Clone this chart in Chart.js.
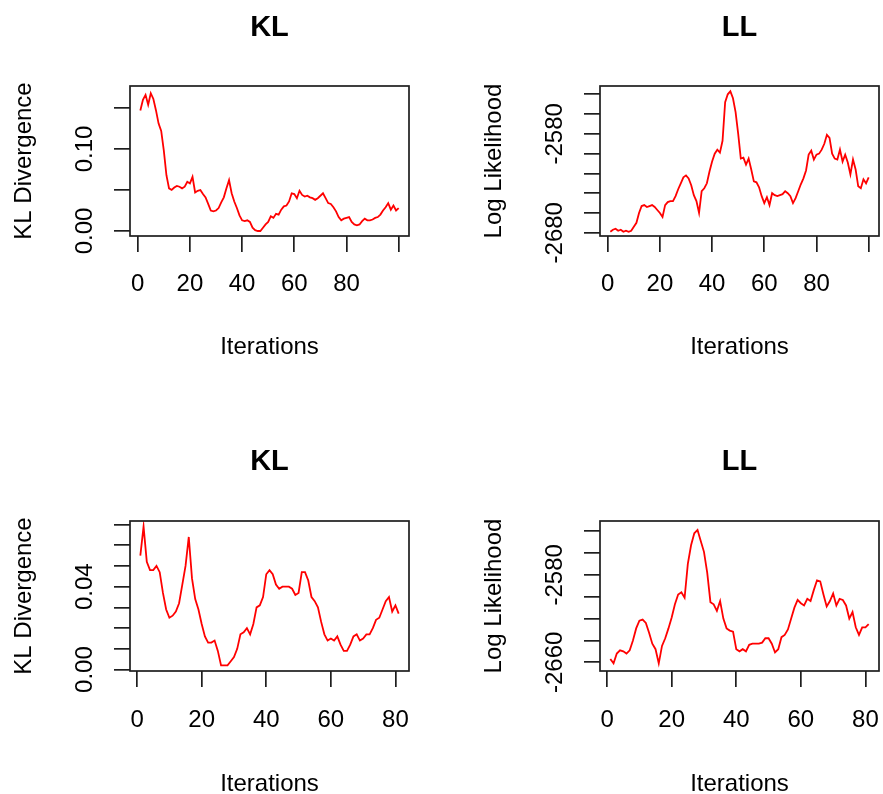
<!DOCTYPE html>
<html>
<head>
<meta charset="utf-8">
<title>KL / LL traces</title>
<script src="https://cdn.jsdelivr.net/npm/chart.js@4.4.1/dist/chart.umd.min.js"></script>
<style>
  html, body { margin: 0; padding: 0; background: #fff; }
  body { width: 883px; height: 794px; position: relative; overflow: hidden; }
  canvas { position: absolute; }
</style>
</head>
<body>
<canvas id="klRun1" width="441" height="359" style="left:0px;top:0px;width:441px;height:359px"></canvas>
<canvas id="llRun1" width="413" height="359" style="left:470px;top:0px;width:413px;height:359px"></canvas>
<canvas id="klRun2" width="441" height="361" style="left:0px;top:435px;width:441px;height:361px"></canvas>
<canvas id="llRun2" width="413" height="361" style="left:470px;top:435px;width:413px;height:361px"></canvas>
<script>
// first run: 100 iterations
const klRun1 = [
  0.147, 0.160, 0.166, 0.154, 0.168, 0.161, 0.147, 0.131, 0.122, 0.098,
  0.068, 0.052, 0.050, 0.053, 0.055, 0.054, 0.052, 0.054, 0.060, 0.058,
  0.066, 0.047, 0.049, 0.050, 0.045, 0.041, 0.033, 0.025, 0.024, 0.025,
  0.028, 0.035, 0.041, 0.052, 0.062, 0.046, 0.036, 0.028, 0.019, 0.013,
  0.012, 0.013, 0.011, 0.004, 0.001, 0.000, 0.000, 0.004, 0.008, 0.011,
  0.018, 0.016, 0.021, 0.020, 0.026, 0.030, 0.031, 0.036, 0.046, 0.045,
  0.040, 0.049, 0.044, 0.042, 0.043, 0.041, 0.040, 0.038, 0.040, 0.043,
  0.046, 0.040, 0.034, 0.033, 0.029, 0.024, 0.017, 0.013, 0.015, 0.016,
  0.017, 0.011, 0.008, 0.007, 0.008, 0.012, 0.015, 0.013, 0.013, 0.014,
  0.016, 0.017, 0.020, 0.025, 0.029, 0.034, 0.026, 0.031, 0.025, 0.028
];
const llRun1 = [
  -2679, -2677, -2676, -2678, -2677, -2679, -2678, -2679, -2678, -2674,
  -2670, -2660, -2653, -2652, -2654, -2653, -2652, -2654, -2657, -2660,
  -2664, -2652, -2649, -2648, -2648, -2643, -2636, -2630, -2624, -2622,
  -2625, -2632, -2642, -2648, -2660, -2638, -2635, -2630, -2618, -2608,
  -2600, -2596, -2599, -2587, -2548, -2540, -2537, -2544, -2558, -2580,
  -2605, -2604, -2611, -2605, -2616, -2628, -2629, -2634, -2643, -2650,
  -2644, -2652, -2640, -2642, -2643, -2642, -2641, -2638, -2640, -2643,
  -2650, -2645, -2638, -2631, -2625, -2617, -2601, -2597, -2606, -2601,
  -2600, -2596, -2590, -2581, -2584, -2600, -2605, -2606, -2596, -2608,
  -2601, -2609, -2621, -2606, -2616, -2633, -2635, -2626, -2630, -2624
];

// second run: 81 iterations
const klRun2 = [
  0.055, 0.069, 0.052, 0.048, 0.048, 0.050, 0.047, 0.037, 0.029, 0.025,
  0.026, 0.028, 0.032, 0.041, 0.050, 0.064, 0.044, 0.034, 0.029, 0.022,
  0.016, 0.013, 0.013, 0.014, 0.009, 0.002, 0.002, 0.002, 0.004, 0.006,
  0.010, 0.017, 0.018, 0.020, 0.017, 0.022, 0.030, 0.031, 0.035, 0.046,
  0.048, 0.046, 0.041, 0.039, 0.040, 0.040, 0.040, 0.039, 0.036, 0.037,
  0.047, 0.047, 0.043, 0.035, 0.033, 0.030, 0.023, 0.017, 0.014, 0.015,
  0.014, 0.016, 0.012, 0.009, 0.009, 0.012, 0.016, 0.017, 0.014, 0.015,
  0.017, 0.017, 0.020, 0.024, 0.025, 0.029, 0.033, 0.035, 0.028, 0.031,
  0.027
];
const llRun2 = [
  -2657, -2661, -2652, -2649, -2650, -2652, -2649, -2640, -2629, -2622,
  -2621, -2624, -2633, -2643, -2648, -2661, -2645, -2638, -2629, -2619,
  -2607, -2598, -2596, -2601, -2570, -2553, -2542, -2539, -2549, -2559,
  -2578, -2605, -2607, -2613, -2604, -2620, -2629, -2631, -2632, -2648,
  -2650, -2648, -2650, -2644, -2643, -2643, -2643, -2642, -2638, -2638,
  -2643, -2651, -2648, -2637, -2635, -2630, -2620, -2610, -2603, -2606,
  -2608, -2602, -2604, -2594, -2585, -2586, -2598, -2609, -2604, -2597,
  -2608, -2602, -2603, -2608, -2620, -2614, -2628, -2635, -2628, -2628,
  -2625
];

// axis ticks and the labels printed next to them ('' = tick only)
const xTicksRun1 = [0, 20, 40, 60, 80, 100];
const xLabelsRun1 = ['0', '20', '40', '60', '80', ''];
const xTicksRun2 = [0, 20, 40, 60, 80];
const xLabelsRun2 = ['0', '20', '40', '60', '80'];
const klTicksRun1 = [0, 0.05, 0.10, 0.15];
const klLabelsRun1 = ['0.00', '', '0.10', ''];
const llTicksRun1 = [-2680, -2660, -2640, -2620, -2600, -2580, -2560, -2540];
const llLabelsRun1 = ['-2680', '', '', '', '', '-2580', '', ''];
const klTicksRun2 = [0, 0.01, 0.02, 0.03, 0.04, 0.05, 0.06, 0.07];
const klLabelsRun2 = ['0.00', '', '', '', '0.04', '', '', ''];
const llTicksRun2 = [-2660, -2640, -2620, -2600, -2580, -2560, -2540];
const llLabelsRun2 = ['-2660', '', '', '', '-2580', '', ''];

const FONT = "'Liberation Sans', Arial, sans-serif";
const INK = '#1e1e1e';

// box round the plot region, drawn over the line like R's box()
const frameBox = {
    id: 'frameBox',
    afterDatasetsDraw(chart) {
        const {ctx, chartArea} = chart;
        ctx.save();
        ctx.strokeStyle = INK;
        ctx.lineWidth = 1.7;
        ctx.strokeRect(chartArea.left, chartArea.top,
            chartArea.right - chartArea.left, chartArea.bottom - chartArea.top);
        ctx.restore();
    }
};

function widestText(labels, size) {
    const ctx = document.createElement('canvas').getContext('2d');
    ctx.font = size + 'px ' + FONT;
    return Math.max(...labels.map(l => ctx.measureText(l).width));
}

// fixed axis size, and no extra room asked for overhanging end labels
function fixSize(s, size) {
    if (s.isHorizontal()) s.height = size; else s.width = size;
    s.paddingLeft = 0;
    s.paddingRight = 0;
    s.paddingTop = 0;
    s.paddingBottom = 0;
}

function drawPanel(id, p) {
    // rotated y labels are centred this far left of the axis
    const yPad = 28.5 - widestText(p.yLabels, 24) / 2;

    return new Chart(document.getElementById(id), {
        type: 'line',
        data: {
            datasets: [{
                data: p.values.map((v, i) => ({x: i + 1, y: v})),
                borderColor: '#ff0000',
                borderWidth: 1.8,
                pointRadius: 0,
                tension: 0,
                fill: false
            }]
        },
        options: {
            responsive: false,
            animation: false,
            devicePixelRatio: 1,
            layout: {padding: {left: 0, right: p.padRight, top: 0, bottom: 0}},
            plugins: {
                legend: {display: false},
                tooltip: {enabled: false},
                title: {
                    display: true,
                    text: p.title,
                    fullSize: false,
                    color: '#000',
                    font: {family: FONT, size: 29, weight: 'bold'},
                    padding: {top: p.titleTop, bottom: 51.2 - p.titleTop}
                }
            },
            scales: {
                x: {
                    type: 'linear',
                    min: p.xMin,
                    max: p.xMax,
                    afterBuildTicks: s => { s.ticks = p.xTicks.map(v => ({value: v})); },
                    afterFit: s => fixSize(s, p.xAxisHeight),
                    grid: {drawOnChartArea: false, tickLength: 16, color: INK, lineWidth: 1.7},
                    border: {display: false},
                    ticks: {
                        autoSkip: false,
                        minRotation: 0,
                        maxRotation: 0,
                        padding: p.xLabelPad,
                        color: '#000',
                        font: {family: FONT, size: 24},
                        callback: (v, i) => p.xLabels[i]
                    },
                    title: {
                        display: true,
                        text: 'Iterations',
                        color: '#000',
                        font: {family: FONT, size: 24},
                        padding: {top: 0, bottom: -2.5}
                    }
                },
                y: {
                    type: 'linear',
                    min: p.yMin,
                    max: p.yMax,
                    afterBuildTicks: s => { s.ticks = p.yTicks.map(v => ({value: v})); },
                    afterFit: s => fixSize(s, 130),
                    grid: {drawOnChartArea: false, tickLength: 16, color: INK, lineWidth: 1.7},
                    border: {display: false},
                    ticks: {
                        autoSkip: false,
                        minRotation: 90,
                        maxRotation: 90,
                        crossAlign: 'center',
                        padding: yPad,
                        color: '#000',
                        font: {family: FONT, size: 24},
                        callback: (v, i) => p.yLabels[i]
                    },
                    title: {
                        display: true,
                        text: p.yTitle,
                        color: '#000',
                        font: {family: FONT, size: 24},
                        padding: {top: 9.6, bottom: 0}
                    }
                }
            }
        },
        plugins: [frameBox]
    });
}

drawPanel('klRun1', {
    title: 'KL', yTitle: 'KL Divergence', values: klRun1,
    xTicks: xTicksRun1, xLabels: xLabelsRun1, xMin: -2.96, xMax: 103.96,
    yTicks: klTicksRun1, yLabels: klLabelsRun1, yMin: -0.0061, yMax: 0.1768,
    padRight: 32, xAxisHeight: 123, xLabelPad: 17.6, titleTop: 11
});
drawPanel('llRun1', {
    title: 'LL', yTitle: 'Log Likelihood', values: llRun1,
    xTicks: xTicksRun1, xLabels: xLabelsRun1, xMin: -2.96, xMax: 103.96,
    yTicks: llTicksRun1, yLabels: llLabelsRun1, yMin: -2683.3, yMax: -2531.6,
    padRight: 4, xAxisHeight: 123, xLabelPad: 17.6, titleTop: 11
});
drawPanel('klRun2', {
    title: 'KL', yTitle: 'KL Divergence', values: klRun2,
    xTicks: xTicksRun2, xLabels: xLabelsRun2, xMin: -2.2, xMax: 84.2,
    yTicks: klTicksRun2, yLabels: klLabelsRun2, yMin: -0.0007, yMax: 0.0717,
    padRight: 32, xAxisHeight: 125, xLabelPad: 19, titleTop: 9.6
});
drawPanel('llRun2', {
    title: 'LL', yTitle: 'Log Likelihood', values: llRun2,
    xTicks: xTicksRun2, xLabels: xLabelsRun2, xMin: -2.2, xMax: 84.2,
    yTicks: llTicksRun2, yLabels: llLabelsRun2, yMin: -2667.95, yMax: -2530.8,
    padRight: 4, xAxisHeight: 125, xLabelPad: 19, titleTop: 9.6
});
</script>
</body>
</html>
